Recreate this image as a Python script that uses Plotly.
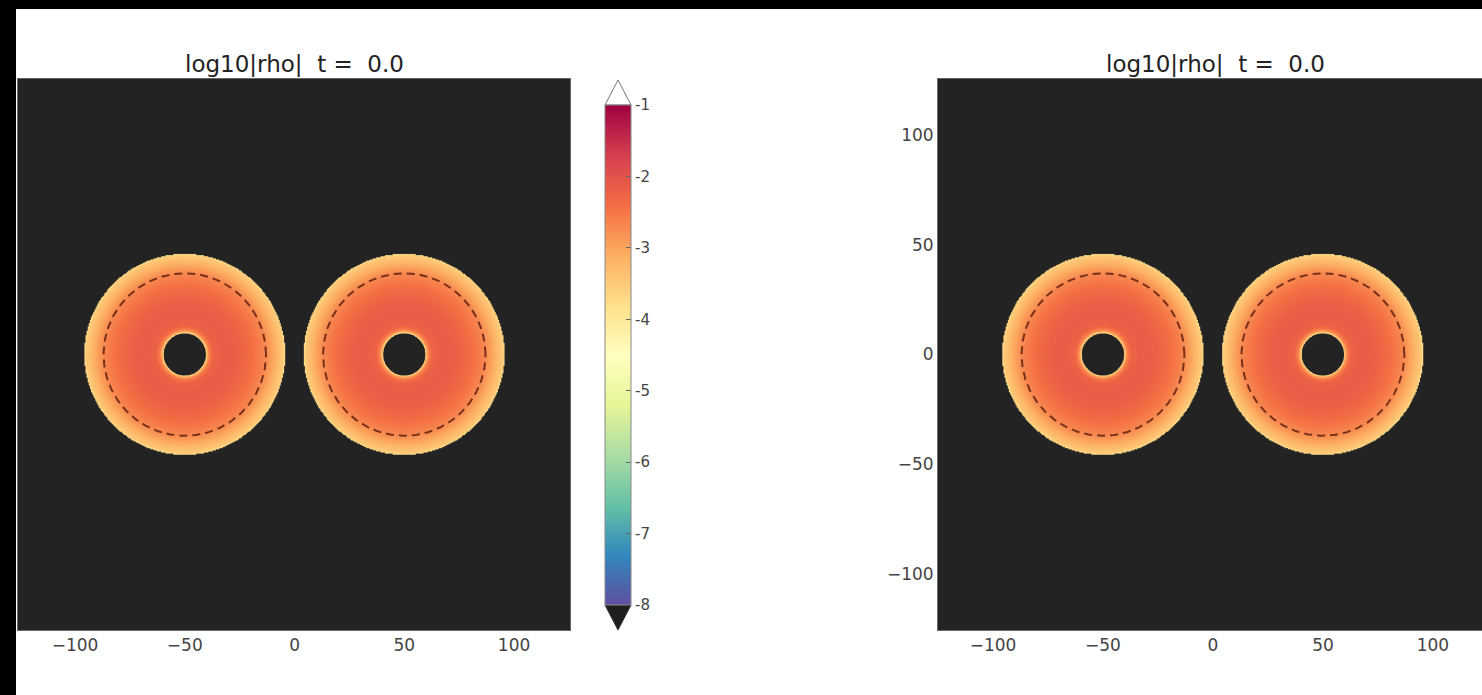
import numpy as np
import plotly.graph_objects as go

W, H = 1482, 695

# ---------------- data ----------------
title_text = "log10|rho|  t =  0.0"
ring_center_x = [-50.0, 50.0]
ring_center_y = [0.0, 0.0]
profile_r = [9.4, 10.2, 11.2, 13.0, 18.0, 24.0, 29.0, 33.0, 37.0, 40.0, 43.0, 45.0, 45.8]
profile_logrho = [-3.9, -3.2, -2.6, -2.25, -2.15, -2.2, -2.35, -2.5, -2.7, -3.0, -3.3, -3.5, -3.8]
dashed_radius = [37.0, 37.0]
axis_ticks = [-100, -50, 0, 50, 100]
cbar_ticks = [-1, -2, -3, -4, -5, -6, -7, -8]
zmin, zmax = -8, -1
under_value = -8.7          # below-range fill (matplotlib 'under' colour)
grid_step = 0.5
grid_extent = 126.0

g = np.arange(-grid_extent, grid_extent + grid_step / 2, grid_step)
X, Y = np.meshgrid(g, g)
Z = np.full(X.shape, under_value)
for cx, cy in zip(ring_center_x, ring_center_y):
    R = np.hypot(X - cx, Y - cy)
    inside = (R >= profile_r[0]) & (R <= profile_r[-1])
    Z[inside] = np.interp(R[inside], profile_r, profile_logrho)
Z = np.round(Z, 3)

spectral_colors = ["rgb(94,79,162)", "rgb(50,136,189)", "rgb(102,194,165)",
                   "rgb(171,221,164)", "rgb(230,245,152)", "rgb(255,255,191)",
                   "rgb(254,224,139)", "rgb(253,174,97)", "rgb(244,109,67)",
                   "rgb(213,62,79)", "rgb(158,1,66)"]
under_color = "rgb(35,35,35)"
n = len(spectral_colors) - 1
spectral_r = [[i / n, c] for i, c in enumerate(spectral_colors)]
f = (zmin - under_value) / (zmax - under_value)
image_scale = [[0.0, under_color], [f * 0.98, under_color]]
image_scale += [[f + (1 - f) * p, c] for p, c in spectral_r]

fig = go.Figure()
theta = np.linspace(0, 2 * np.pi, 361)
for xa, ya in [("x", "y"), ("x2", "y2")]:
    fig.add_trace(go.Heatmap(
        x=g, y=g, z=Z, coloraxis="coloraxis", xaxis=xa, yaxis=ya,
        hoverinfo="skip", zsmooth="fast",
    ))
    # central holes (below the colour range)
    for cx, cy in zip(ring_center_x, ring_center_y):
        fig.add_trace(go.Scatter(
            x=cx + profile_r[0] * np.cos(theta), y=cy + profile_r[0] * np.sin(theta),
            mode="lines", fill="toself", fillcolor=under_color,
            line=dict(width=1, color=under_color), xaxis=xa, yaxis=ya, hoverinfo="skip",
        ))
    # dashed circles
    for cx, cy, rr in zip(ring_center_x, ring_center_y, dashed_radius):
        fig.add_trace(go.Scatter(
            x=cx + rr * np.cos(theta), y=cy + rr * np.sin(theta), mode="lines",
            xaxis=xa, yaxis=ya, hoverinfo="skip",
            line=dict(color="rgb(120,48,28)", width=2, dash="8px,5px"),
        ))

fig.add_trace(go.Scatter(
    x=[None, None], y=[None, None], mode="markers", xaxis="x", yaxis="y",
    marker=dict(color=[zmin, zmax], coloraxis="coloraxis2"), hoverinfo="skip",
))

font_family = "DejaVu Sans"
tick_font = dict(family=font_family, size=17, color="#444")
common_axis = dict(
    showgrid=False, zeroline=False, showline=True, mirror=True,
    linecolor="#666", linewidth=1, ticks="", tickfont=tick_font,
    tickvals=axis_ticks,
)
L1, R1 = 18, 570
L2 = 938
TOP, BOT = 79, 630

fig.update_layout(
    width=W, height=H, autosize=False,
    margin=dict(l=0, r=0, t=0, b=0, pad=0),
    paper_bgcolor="white", plot_bgcolor=under_color,
    showlegend=False,
    xaxis=dict(domain=[L1 / W, R1 / W], range=[-126, 125.5], anchor="y", **common_axis),
    yaxis=dict(domain=[1 - BOT / H, 1 - TOP / H], range=[-125.5, 125.5], anchor="x",
               showticklabels=False, **common_axis),
    xaxis2=dict(domain=[L2 / W, 1.0], range=[-125, 122.3], anchor="y2", **common_axis),
    yaxis2=dict(domain=[1 - BOT / H, 1 - TOP / H], range=[-125.5, 125.5], anchor="x2",
                **common_axis),
    coloraxis=dict(cmin=under_value, cmax=zmax, colorscale=image_scale, showscale=False),
    coloraxis2=dict(
        cmin=zmin, cmax=zmax, colorscale=spectral_r, showscale=True,
        colorbar=dict(
            x=605 / W, xanchor="left", xpad=0,
            y=1 - 105 / H, yanchor="top", ypad=0,
            len=500, lenmode="pixels", thickness=26, thicknessmode="pixels",
            outlinewidth=1, outlinecolor="#888",
            tickvals=cbar_ticks, ticktext=[str(v) for v in cbar_ticks],
            ticks="inside", ticklen=5, tickcolor="#666",
            tickfont=dict(family=font_family, size=15, color="#444"),
        ),
    ),
)

for cxp in [294, 1215]:
    fig.add_annotation(text=title_text, xref="paper", yref="paper",
                       x=cxp / W, y=1 - 64 / H, xanchor="center", yanchor="middle",
                       showarrow=False, font=dict(family=font_family, size=23, color="#222"))

def px(xp, yp):
    return f"{xp / W:.5f},{1 - yp / H:.5f}"

fig.add_shape(type="path", xref="paper", yref="paper",
              path=f"M {px(605, 105)} L {px(631, 105)} L {px(618, 80)} Z",
              fillcolor="white", line=dict(color="#777", width=1), layer="above")
fig.add_shape(type="path", xref="paper", yref="paper",
              path=f"M {px(605, 605)} L {px(631, 605)} L {px(618, 630)} Z",
              fillcolor="#1e1e1e", line=dict(color="#333", width=1), layer="above")
fig.add_shape(type="rect", xref="paper", yref="paper", x0=0, x1=1, y0=1 - 9 / H, y1=1.01,
              fillcolor="black", line=dict(width=0), layer="above")
fig.add_shape(type="rect", xref="paper", yref="paper", x0=-0.01, x1=16 / W, y0=-0.01, y1=1.01,
              fillcolor="black", line=dict(width=0), layer="above")

fig.write_html("out.html", config={"displayModeBar": False},
               post_script="document.body.style.margin='0';document.body.style.overflow='hidden';")
